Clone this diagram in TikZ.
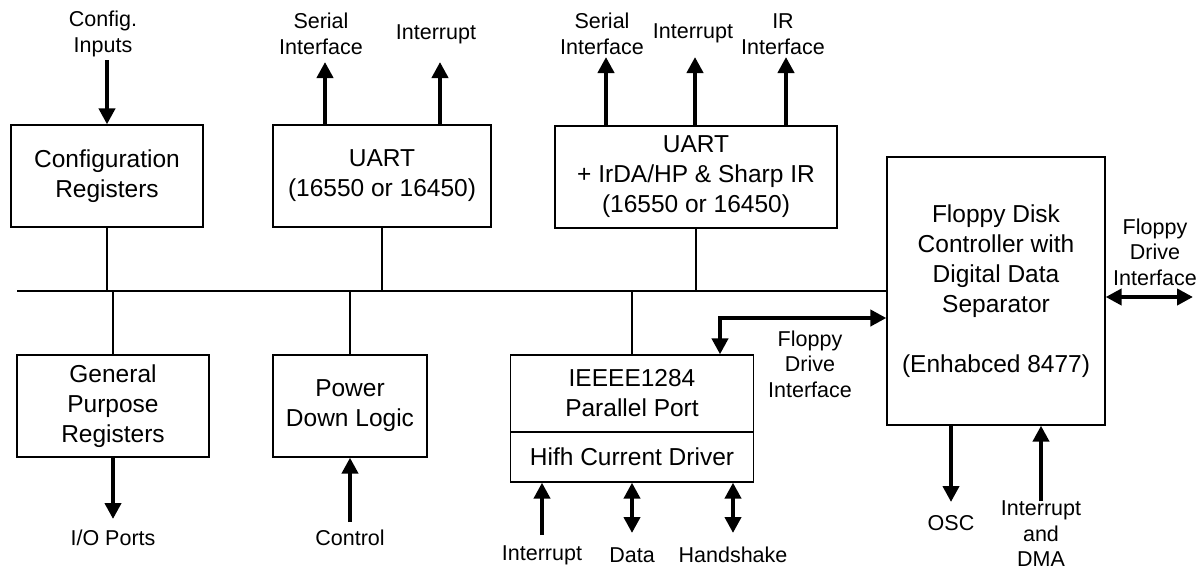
\documentclass[tikz,border=0pt]{standalone}
\usepackage{fontspec}
\setmainfont{Liberation Sans}
\usetikzlibrary{arrows.meta}
\tikzset{
  blk/.style={draw, line width=1.3pt, align=center, inner sep=0pt, font=\fontsize{24.5}{30}\selectfont},
  lbl/.style={align=center, inner sep=0pt, font=\fontsize{21.5}{25.5}\selectfont},
  bus/.style={line width=1.3pt},
  sig/.style={line width=4pt, -{Triangle[width=16pt,length=16pt]}},
  sigb/.style={line width=4pt, {Triangle[width=16pt,length=16pt]}-{Triangle[width=16pt,length=16pt]}},
}
\begin{document}
\begin{tikzpicture}[x=1pt, y=-1pt]
  \useasboundingbox (0,0) rectangle (1199,573);

  \node[blk, minimum width=192, minimum height=102] (cfg) at (107,176) {Configuration\\Registers};
  \node[blk, minimum width=218, minimum height=102] (uarta) at (382,176) {UART\\(16550 or 16450)};
  \node[blk, minimum width=282, minimum height=102] (uartb) at (696,177) {UART\\+ IrDA/HP \& Sharp IR\\(16550 or 16450)};
  \node[blk, minimum width=218, minimum height=268] (fdc) at (996,291) {Floppy Disk\\Controller with\\Digital Data\\Separator\\[30pt](Enhabced 8477)};
  \node[blk, minimum width=192, minimum height=102] (gpr) at (113,406) {General\\Purpose\\Registers};
  \node[blk, minimum width=154, minimum height=102] (pdl) at (350,406) {Power\\Down Logic};
  \node[blk, minimum width=243, minimum height=77] (ppt) at (632,393.5) {IEEEE1284\\Parallel Port};
  \node[blk, minimum width=243, minimum height=50] (drv) at (632,457) {Hifh Current Driver};

  \node[lbl] (cfgin) at (103,34) {Config.\\Inputs};
  \node[lbl] (siA) at (321,34) {Serial\\Interface};
  \node[lbl] (irqA) at (436,34) {Interrupt};
  \node[lbl] (siB) at (602,34) {Serial\\Interface};
  \node[lbl] (irqB) at (693,33) {Interrupt};
  \node[lbl] (irB) at (783,34) {IR\\Interface};
  \node[lbl] (fdi) at (1155,252) {Floppy\\Drive\\Interface};
  \node[lbl] (fdm) at (810,364) {Floppy\\Drive\\Interface};
  \node[lbl] (osc) at (951,523) {OSC};
  \node[lbl] (dma) at (1041,534) {Interrupt\\and\\DMA};
  \node[lbl] (iop) at (113,538) {I/O Ports};
  \node[lbl] (ctl) at (350,538) {Control};
  \node[lbl] (irqP) at (542,555) {Interrupt};
  \node[lbl] (dat) at (632,555) {Data};
  \node[lbl] (hsk) at (733,555) {Handshake};

  \coordinate (cfgend) at (107,60);
  \coordinate (siAend) at (325,62);
  \coordinate (irqAend) at (440,62);
  \coordinate (siBend) at (606,57);
  \coordinate (irqBend) at (695,57);
  \coordinate (irBend) at (786,57);
  \coordinate (fdiend) at (1193,297);
  \coordinate (oscend) at (951,502);
  \coordinate (dmaend) at (1041,501);
  \coordinate (iopend) at (113,519);
  \coordinate (ctlend) at (350,522);
  \coordinate (irqPend) at (542,535);
  \coordinate (datend) at (632,533);
  \coordinate (hskend) at (733,533);
  \coordinate (elb) at (720,318);
  \coordinate (busl) at (17,291);

  \draw[bus] (busl) -- (busl -| fdc.west);
  \draw[bus] (cfg.south) -- (cfg.south |- busl);
  \draw[bus] (uarta.south) -- (uarta.south |- busl);
  \draw[bus] (uartb.south) -- (uartb.south |- busl);
  \draw[bus] (gpr.north) -- (gpr.north |- busl);
  \draw[bus] (pdl.north) -- (pdl.north |- busl);
  \draw[bus] (ppt.north) -- (ppt.north |- busl);

  \draw[sig] (cfgend) -- (cfg.north);
  \draw[sig] (uarta.north -| siAend) -- (siAend);
  \draw[sig] (uarta.north -| irqAend) -- (irqAend);
  \draw[sig] (uartb.north -| siBend) -- (siBend);
  \draw[sig] (uartb.north -| irqBend) -- (irqBend);
  \draw[sig] (uartb.north -| irBend) -- (irBend);
  \draw[sigb] (fdc.east |- fdiend) -- (fdiend);
  \draw[sig] (fdc.south -| oscend) -- (oscend);
  \draw[sig] (dmaend) -- (fdc.south -| dmaend);
  \draw[sigb] (ppt.north -| elb) -- (elb) -- (elb -| fdc.west);
  \draw[sig] (gpr.south) -- (iopend);
  \draw[sig] (ctlend) -- (pdl.south);
  \draw[sig] (irqPend) -- (drv.south -| irqPend);
  \draw[sigb] (drv.south -| datend) -- (datend);
  \draw[sigb] (drv.south -| hskend) -- (hskend);
\end{tikzpicture}
\end{document}
